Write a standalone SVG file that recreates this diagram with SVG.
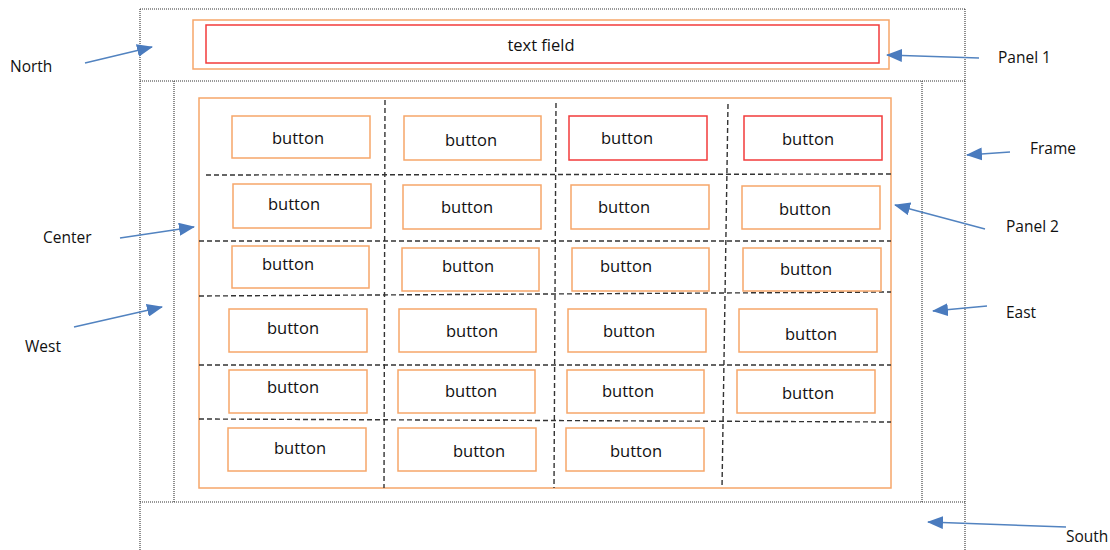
<svg xmlns="http://www.w3.org/2000/svg" width="1110" height="550" viewBox="0 0 1110 550">
<defs>
<style>
.dot{stroke:#333;stroke-width:1.1;stroke-dasharray:1 1;fill:none}
.dash{stroke:#333;stroke-width:1.4;stroke-dasharray:5 3;fill:none}
.or{fill:#fff;stroke:#F6A66A;stroke-width:1.5}
.rd{fill:#fff;stroke:#F23B3B;stroke-width:1.5}
.pn{fill:none;stroke:#F6A66A;stroke-width:1.5}
.bt{font-family:"Open Sans","Liberation Sans",sans-serif;font-size:16.5px;fill:#111;text-anchor:middle;dominant-baseline:central}
.lb{font-family:"Open Sans","Liberation Sans",sans-serif;font-size:15.5px;fill:#111;dominant-baseline:central}
.ar{stroke:#5283C0;stroke-width:1.6;fill:none;marker-end:url(#ah)}
</style>
<marker id="ah" markerUnits="userSpaceOnUse" markerWidth="16" markerHeight="13" viewBox="0 0 16 13" refX="15" refY="6.5" orient="auto">
<path d="M0,0 L16,6.5 L0,13 z" fill="#4A7BBE"/>
</marker>
</defs>
<rect width="1110" height="550" fill="#fff"/>

<g id="frame">
<line class="dot" x1="140" y1="9" x2="140" y2="550"/>
<line class="dot" x1="965" y1="9" x2="965" y2="550"/>
<line class="dot" x1="140" y1="9" x2="965" y2="9"/>
<line class="dot" x1="140" y1="81" x2="965" y2="81"/>
<line class="dot" x1="140" y1="502" x2="965" y2="502"/>
<line class="dot" x1="174" y1="81" x2="174" y2="502"/>
<line class="dot" x1="922" y1="81" x2="922" y2="502"/>
</g>

<g id="panel1">
<rect class="pn" x="193" y="20" width="696" height="49"/>
</g>
<g id="textfield">
<rect class="rd" x="206" y="25" width="673" height="38"/>
<text class="bt" x="541" y="44">text field</text>
</g>

<g id="panel2">
<rect class="pn" x="199" y="98" width="692" height="390"/>
<g id="grid">
<line class="dash" x1="385" y1="100" x2="384" y2="488"/>
<line class="dash" x1="556" y1="103" x2="554" y2="488"/>
<line class="dash" x1="728" y1="104" x2="722" y2="488"/>
<line class="dash" x1="206" y1="175" x2="891" y2="174"/>
<line class="dash" x1="199" y1="241" x2="891" y2="241"/>
<line class="dash" x1="199" y1="296" x2="891" y2="292"/>
<line class="dash" x1="199" y1="365" x2="891" y2="365"/>
<line class="dash" x1="199" y1="419" x2="891" y2="422"/>
</g>
</g>

<g id="b11"><rect class="or" x="232" y="116" width="138" height="42"/><text class="bt" x="298" y="137">button</text></g>
<g id="b12"><rect class="or" x="404" y="116" width="137" height="44"/><text class="bt" x="471" y="139">button</text></g>
<g id="b13"><rect class="rd" x="569" y="116" width="138" height="44"/><text class="bt" x="627" y="137">button</text></g>
<g id="b14"><rect class="rd" x="744" y="116" width="138" height="44"/><text class="bt" x="808" y="138">button</text></g>

<g id="b21"><rect class="or" x="233" y="184" width="138" height="44"/><text class="bt" x="294" y="203">button</text></g>
<g id="b22"><rect class="or" x="403" y="185" width="138" height="44"/><text class="bt" x="467" y="206">button</text></g>
<g id="b23"><rect class="or" x="571" y="185" width="138" height="44"/><text class="bt" x="624" y="206">button</text></g>
<g id="b24"><rect class="or" x="742" y="186" width="138" height="43"/><text class="bt" x="805" y="208">button</text></g>

<g id="b31"><rect class="or" x="232" y="246" width="137" height="42"/><text class="bt" x="288" y="263">button</text></g>
<g id="b32"><rect class="or" x="402" y="248" width="137" height="43"/><text class="bt" x="468" y="265">button</text></g>
<g id="b33"><rect class="or" x="572" y="248" width="137" height="43"/><text class="bt" x="626" y="265">button</text></g>
<g id="b34"><rect class="or" x="743" y="248" width="138" height="43"/><text class="bt" x="806" y="268">button</text></g>

<g id="b41"><rect class="or" x="229" y="309" width="138" height="43"/><text class="bt" x="293" y="327">button</text></g>
<g id="b42"><rect class="or" x="399" y="309" width="137" height="43"/><text class="bt" x="472" y="330">button</text></g>
<g id="b43"><rect class="or" x="568" y="309" width="138" height="43"/><text class="bt" x="629" y="330">button</text></g>
<g id="b44"><rect class="or" x="739" y="309" width="138" height="43"/><text class="bt" x="811" y="333">button</text></g>

<g id="b51"><rect class="or" x="229" y="370" width="138" height="43"/><text class="bt" x="293" y="386">button</text></g>
<g id="b52"><rect class="or" x="398" y="370" width="137" height="43"/><text class="bt" x="471" y="390">button</text></g>
<g id="b53"><rect class="or" x="567" y="370" width="137" height="43"/><text class="bt" x="628" y="390">button</text></g>
<g id="b54"><rect class="or" x="737" y="370" width="138" height="43"/><text class="bt" x="808" y="392">button</text></g>

<g id="b61"><rect class="or" x="228" y="428" width="138" height="43"/><text class="bt" x="300" y="447">button</text></g>
<g id="b62"><rect class="or" x="398" y="428" width="138" height="43"/><text class="bt" x="479" y="450">button</text></g>
<g id="b63"><rect class="or" x="566" y="428" width="138" height="43"/><text class="bt" x="636" y="450">button</text></g>

<g id="labels">
<text class="lb" x="10" y="66">North</text>
<text class="lb" x="43" y="237">Center</text>
<text class="lb" x="25" y="346">West</text>
<text class="lb" x="998" y="57">Panel 1</text>
<text class="lb" x="1030" y="148">Frame</text>
<text class="lb" x="1006" y="226">Panel 2</text>
<text class="lb" x="1006" y="312">East</text>
<text class="lb" x="1066" y="536">South</text>
</g>

<g id="connectors">
<line class="ar" x1="85" y1="63" x2="152" y2="47"/>
<line class="ar" x1="120" y1="238" x2="194" y2="227"/>
<line class="ar" x1="74" y1="327" x2="162" y2="307"/>
<line class="ar" x1="979" y1="58" x2="887" y2="55"/>
<line class="ar" x1="1010" y1="152" x2="967" y2="155"/>
<line class="ar" x1="985" y1="229" x2="895" y2="205"/>
<line class="ar" x1="987" y1="306" x2="933" y2="311"/>
<line class="ar" x1="1066" y1="527" x2="928" y2="522"/>
</g>
</svg>
